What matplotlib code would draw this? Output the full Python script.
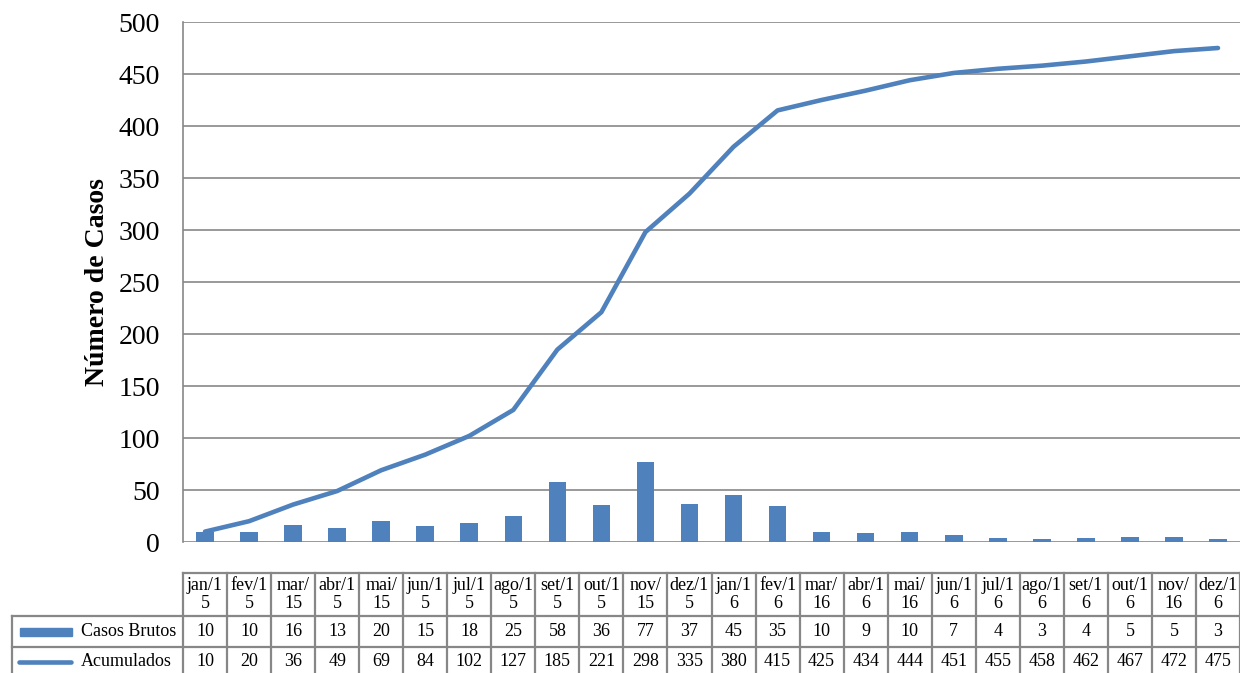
import matplotlib
matplotlib.use("Agg")
import matplotlib.pyplot as plt
from matplotlib.lines import Line2D
from matplotlib.patches import Rectangle
import matplotlib.transforms as mtransforms

plt.rcParams["font.family"] = ["Liberation Serif", "DejaVu Serif"]

# meses (rótulos já quebrados como na tabela)
meses = ["jan/1\n5", "fev/1\n5", "mar/\n15", "abr/1\n5", "mai/\n15", "jun/1\n5",
         "jul/1\n5", "ago/1\n5", "set/1\n5", "out/1\n5", "nov/\n15", "dez/1\n5",
         "jan/1\n6", "fev/1\n6", "mar/\n16", "abr/1\n6", "mai/\n16", "jun/1\n6",
         "jul/1\n6", "ago/1\n6", "set/1\n6", "out/1\n6", "nov/\n16", "dez/1\n6"]
casos_brutos = [10, 10, 16, 13, 20, 15, 18, 25, 58, 36, 77, 37,
                45, 35, 10, 9, 10, 7, 4, 3, 4, 5, 5, 3]
acumulados = [10, 20, 36, 49, 69, 84, 102, 127, 185, 221, 298, 335,
              380, 415, 425, 434, 444, 451, 455, 458, 462, 467, 472, 475]
yticks = [0, 50, 100, 150, 200, 250, 300, 350, 400, 450, 500]

AZUL = "#4F81BD"
CINZA = "#878787"

W, H = 1240, 673
fig = plt.figure(figsize=(W / 100, H / 100), dpi=100)
ax_left, ax_bot, ax_top = 183, 542, 22
ax = fig.add_axes([ax_left / W, 1 - ax_bot / H, (W - ax_left) / W, (ax_bot - ax_top) / H])

n = len(meses)
x = list(range(n))
ax.bar(x, casos_brutos, width=0.4, color=AZUL, zorder=2)
ax.plot(x, acumulados, color=AZUL, lw=3.3, solid_capstyle="round",
        solid_joinstyle="round", zorder=3)

ax.set_xlim(-0.5, n - 0.5)
ax.set_ylim(0, 500)
ax.set_yticks(yticks)
ax.set_xticks([])
ax.tick_params(axis="y", length=0, pad=16.5, labelsize=20)
ax.grid(axis="y", color=CINZA, lw=1.2, zorder=0)
for s in ["top", "right", "bottom"]:
    ax.spines[s].set_visible(False)
ax.spines["left"].set_color(CINZA)
ax.spines["left"].set_linewidth(1.2)

fig.text(97 / W, 1 - 282 / H, "Número de Casos", rotation=90, ha="center",
         va="center", fontsize=20, fontweight="bold")

# tabela de dados abaixo do gráfico
def ay(py):
    return (ax_bot - py) / (ax_bot - ax_top)

trans = mtransforms.blended_transform_factory(ax.transData, ax.transAxes)
y_hdr_top, y_hdr_bot, y_r1_bot, y_r2_bot = ay(573), ay(616), ay(647), ay(690)
tkw = dict(color=CINZA, lw=1.6, clip_on=False, zorder=1)

ax.add_line(Line2D([-0.5, n - 0.5], [y_hdr_top] * 2, transform=trans, **tkw))
for i in range(n + 1):
    ax.add_line(Line2D([i - 0.5, i - 0.5], [y_hdr_top, y_r2_bot], transform=trans, **tkw))
for py in (616, 647):
    fig.add_artist(Line2D([12 / W, 1.0], [1 - py / H] * 2, **tkw))
fig.add_artist(Line2D([12 / W] * 2, [1 - 616 / H, 0], **tkw))

fs = 13
for i in x:
    ax.text(i, (y_hdr_top + y_hdr_bot) / 2, meses[i], transform=trans, ha="center",
            va="center", fontsize=fs, linespacing=1.15, clip_on=False)
    ax.text(i, (y_hdr_bot + y_r1_bot) / 2, str(casos_brutos[i]), transform=trans,
            ha="center", va="center", fontsize=fs, clip_on=False)
    ax.text(i, ay(662), str(acumulados[i]), transform=trans,
            ha="center", va="center", fontsize=fs, clip_on=False)

# rótulos das linhas com símbolo da série
fig.add_artist(Rectangle((20 / W, 1 - 636 / H), 52 / W, 8 / H, color=AZUL))
fig.add_artist(Line2D([19 / W, 71 / W], [1 - 662 / H] * 2, color=AZUL, lw=3.3,
                      solid_capstyle="round"))
fig.text(176 / W, 1 - 632 / H, "Casos Brutos", ha="right", va="center", fontsize=fs)
fig.text(172 / W, 1 - 662 / H, "Acumulados", ha="right", va="center", fontsize=fs)

fig.savefig("out.png", dpi=100)
